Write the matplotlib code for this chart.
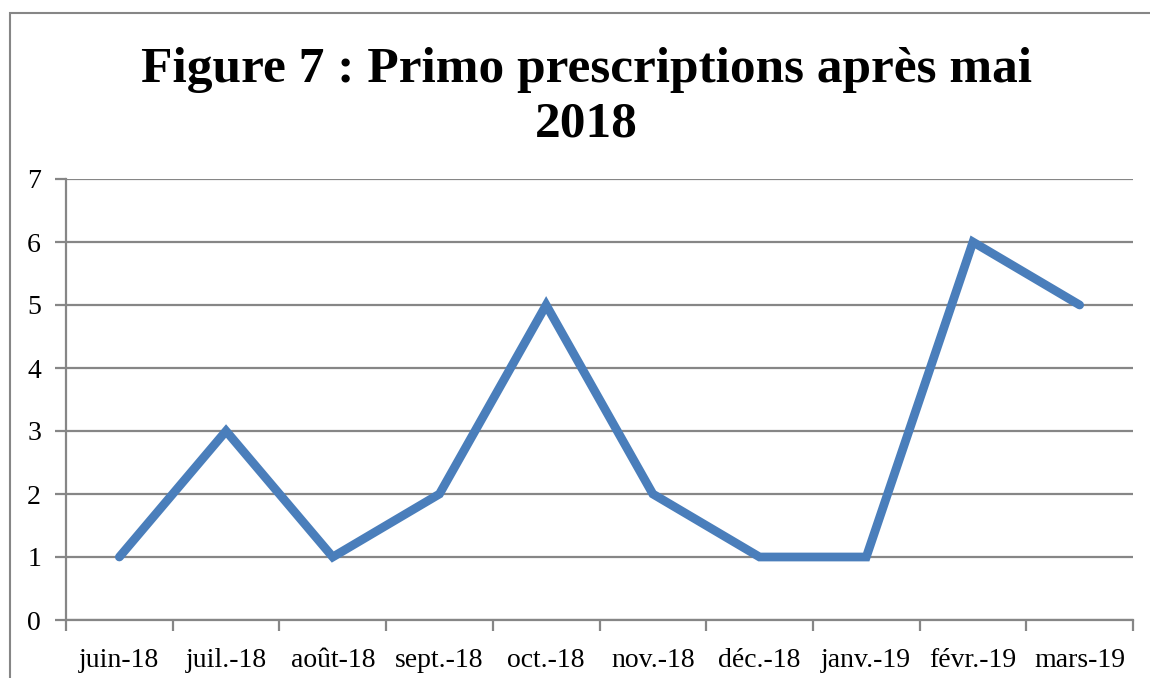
import numpy as np
import matplotlib.pyplot as plt
from matplotlib.patches import Rectangle

# Data
months = ['juin-18', 'juil.-18', 'août-18', 'sept.-18', 'oct.-18',
          'nov.-18', 'déc.-18', 'janv.-19', 'févr.-19', 'mars-19']
counts = [1, 3, 1, 2, 5, 2, 1, 1, 6, 5]
y_ticks = [0, 1, 2, 3, 4, 5, 6, 7]

grey = '#868686'
blue = '#4A7EBB'

plt.rcParams['font.family'] = ['Liberation Serif', 'DejaVu Serif']

fig = plt.figure(figsize=(11.5, 6.78), dpi=100)
ax = fig.add_axes([66 / 1150, 1 - 620 / 678, (1133 - 66) / 1150, (620 - 179) / 678])

x = np.arange(len(months))
ax.plot(x, counts, color=blue, lw=6.3, solid_joinstyle='miter',
        solid_capstyle='round', zorder=3)

ax.set_xlim(-0.5, len(months) - 0.5)
ax.set_ylim(0, 7)
ax.set_yticks(y_ticks)
ax.yaxis.grid(True, color=grey, lw=1.6)
ax.set_axisbelow(True)

# labels at category centres, tick marks at the boundaries
ax.set_xticks(x)
ax.set_xticklabels(months, fontsize=20)
ax.set_xticks(np.arange(-0.5, len(months)), minor=True)
ax.tick_params(axis='x', which='major', length=0, pad=20)
ax.tick_params(axis='x', which='minor', length=8, width=1.6, color=grey)
ax.tick_params(axis='y', length=8, width=1.6, color=grey, labelsize=20, pad=10)

for side in ['top', 'right']:
    ax.spines[side].set_visible(False)
for side in ['left', 'bottom']:
    ax.spines[side].set_color(grey)
    ax.spines[side].set_linewidth(1.6)

fig.text(0.51, 1 - 97 / 678, 'Figure 7 : Primo prescriptions après mai\n2018',
         ha='center', va='center', fontsize=37, fontweight='bold',
         linespacing=1.25)

# outer chart border
fig.patches.append(Rectangle((10 / 1150, -0.1), 1.2, 1 - 13 / 678 + 0.1,
                             transform=fig.transFigure, fill=False,
                             edgecolor=grey, lw=1.5))

fig.savefig('out.png', dpi=100)
